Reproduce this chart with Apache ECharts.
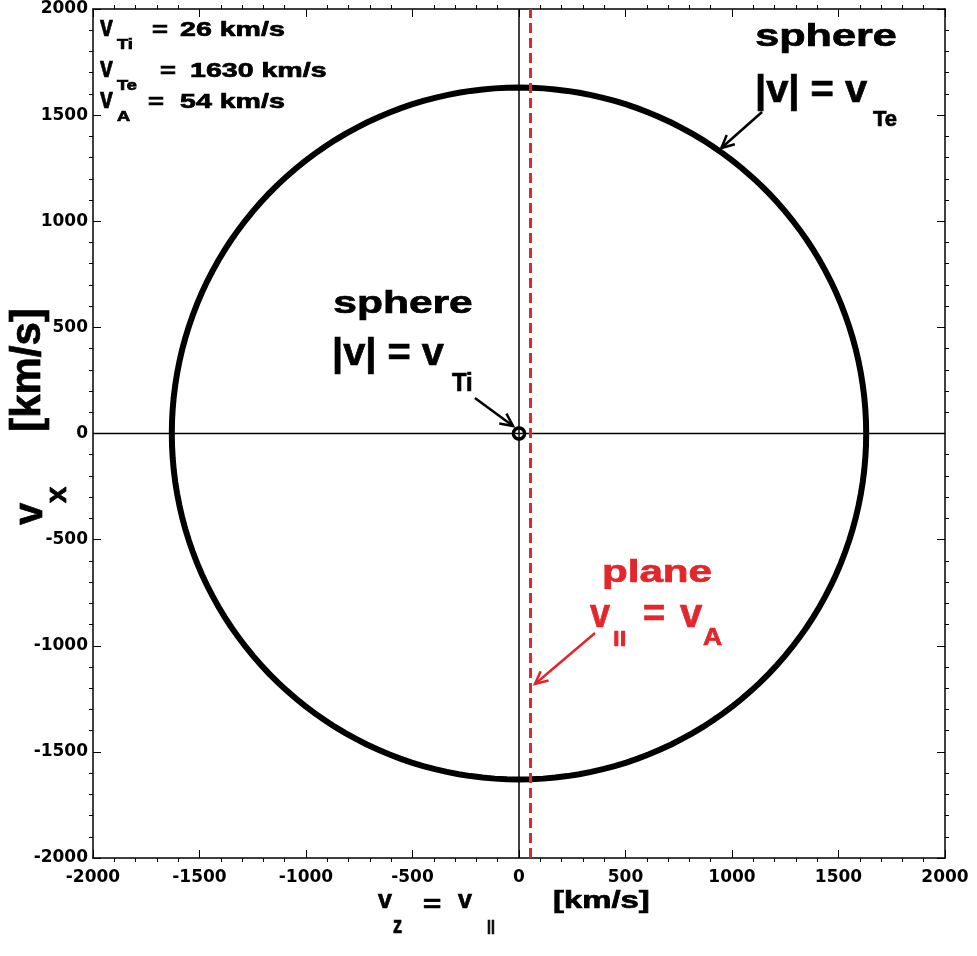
<!DOCTYPE html>
<html>
<head>
<meta charset="utf-8">
<script src="https://cdn.jsdelivr.net/npm/echarts@6/dist/echarts.min.js"></script>
<style>
html,body{margin:0;padding:0;background:#fff;}
#chart{width:977px;height:956px;}
</style>
</head>
<body>
<div id="chart"></div>
<script>
// ---- data ----
const vTi = 26;      // km/s
const vTe = 1630;    // km/s
const vA = 54;       // km/s
const axisMin = -2000;
const axisMax = 2000;
const axisStep = 500;
const legendLines = [
  { sub: 'Ti', value: '26 km/s' },
  { sub: 'Te', value: '1630 km/s' },
  { sub: 'A',  value: '54 km/s' }
];
// annotation arrows [tailX, tailY, headX, headY] in data units
const arrowTe = [1141, 1515, 950, 1345];
const arrowTi = [-207, 167, -28, 35];
const arrowVA = [357, -940, 75, -1180];

const RED = '#e3262b';
const FONT = 'Liberation Sans';
const TICKFONT = 'DejaVu Sans';

const chart = echarts.init(document.getElementById('chart'), null, { renderer: 'canvas' });

function T(text, x, base, fs, sx, align, color) {
  const c = color || '#000';
  return {
    type: 'text', x: x, y: base - 0.35 * fs, scaleX: sx, z: 100,
    style: {
      text: text, x: 0, y: 0, fill: c, stroke: c, lineWidth: 0.7,
      fontFamily: FONT, fontSize: fs, fontWeight: 'bold',
      align: align || 'left', textAlign: align || 'left',
      verticalAlign: 'middle', textVerticalAlign: 'middle'
    }
  };
}
function R(text, cx, cy, fs, sx) {
  return {
    type: 'text', x: cx, y: cy, rotation: Math.PI / 2, scaleX: sx || 1, z: 100,
    style: {
      text: text, x: 0, y: 0, fill: '#000', stroke: '#000', lineWidth: 0.7,
      fontFamily: FONT, fontSize: fs, fontWeight: 'bold',
      align: 'center', textAlign: 'center',
      verticalAlign: 'middle', textVerticalAlign: 'middle'
    }
  };
}

const graphics = [];
// upper-left legend
const legBase = [38, 79, 110];
const legEq = [152, 160, 148];
const legVal = [180, 190, 180];
legendLines.forEach(function (l, i) {
  graphics.push(T('v', 100, legBase[i], 29, 0.8));
  graphics.push(T(l.sub, 117, legBase[i] + 12, 14, 1.3));
  graphics.push(T('=', legEq[i], legBase[i], 21, 1.3));
  graphics.push(T(l.value, legVal[i], legBase[i], 21, 1.36));
});
// top-right annotation
graphics.push(T('sphere', 826, 48, 32, 1.35, 'center'));
graphics.push(T('|v| = v', 755, 105, 38, 1.05));
graphics.push(T('Te', 873, 128, 22, 1.0));
// middle annotation
graphics.push(T('sphere', 403, 315, 32, 1.33, 'center'));
graphics.push(T('|v| = v', 332, 368, 39, 1.02));
graphics.push(T('Ti', 452, 393, 25, 0.95));
// red annotation
graphics.push(T('plane', 657, 584, 31, 1.36, 'center', RED));
graphics.push(T('v', 590, 630, 40, 0.9, 'left', RED));
graphics.push(T('||', 613, 644, 16, 1.5, 'left', RED));
graphics.push(T('=', 643, 629, 38, 1.0, 'left', RED));
graphics.push(T('v', 680, 630, 40, 1.0, 'left', RED));
graphics.push(T('A', 703, 647, 23, 1.15, 'left', RED));
// x-axis title
graphics.push(T('v', 378, 910, 25, 1.0));
graphics.push(T('z', 393, 935, 23, 0.8));
graphics.push(T('=', 423, 914, 24, 1.3));
graphics.push(T('v', 458, 910, 25, 1.0));
graphics.push(T('||', 487, 932, 14, 1.0));
graphics.push(T('[km/s]', 553, 910, 24.5, 1.34));
// y-axis title (rotated)
graphics.push(R('[km/s]', 28, 370, 42));
graphics.push(R('v', 31, 514, 40));
graphics.push(R('x', 57.5, 495, 30));

function sphereRender(lineWidth) {
  return function (params, api) {
    const r = api.value(2);
    const pts = [];
    for (let k = 0; k < 360; k += 2) {
      const a = k * Math.PI / 180;
      pts.push(api.coord([api.value(0) + r * Math.cos(a), api.value(1) + r * Math.sin(a)]));
    }
    return {
      type: 'polygon', shape: { points: pts },
      style: { fill: 'none', stroke: '#000', lineWidth: lineWidth }
    };
  };
}
function arrowRender(color) {
  return function (params, api) {
    const t = api.coord([api.value(0), api.value(1)]);
    const h = api.coord([api.value(2), api.value(3)]);
    const ang = Math.atan2(t[1] - h[1], t[0] - h[0]);
    const L = 14, w = 0.45;
    const p1 = [h[0] + L * Math.cos(ang + w), h[1] + L * Math.sin(ang + w)];
    const p2 = [h[0] + L * Math.cos(ang - w), h[1] + L * Math.sin(ang - w)];
    return {
      type: 'group', children: [
        { type: 'line', shape: { x1: t[0], y1: t[1], x2: h[0], y2: h[1] }, style: { stroke: color, lineWidth: 2.5 } },
        { type: 'polyline', shape: { points: [p1, h, p2] }, style: { stroke: color, lineWidth: 2.5, fill: 'none' } }
      ]
    };
  };
}

const tickLabel = { color: '#000', fontFamily: TICKFONT, fontWeight: 'bold', fontSize: 17,
  formatter: function (v) { return String(v); } };
function axisBase(extra) {
  return Object.assign({
    type: 'value', min: axisMin, max: axisMax, interval: axisStep, gridIndex: 0,
    axisLine: { show: true, onZero: false, lineStyle: { color: '#000', width: 1.5 } },
    axisTick: { show: true, inside: true, length: 8, lineStyle: { color: '#000', width: 1 } },
    minorTick: { show: true, splitNumber: 5, length: -4, lineStyle: { color: '#000', width: 1 } },
    splitLine: { show: false }, minorSplitLine: { show: false }
  }, extra);
}

const option = {
  backgroundColor: '#fff',
  animation: false,
  grid: { left: 93, right: 32, top: 9, bottom: 98, containLabel: false, outerBoundsMode: 'none' },
  xAxis: [
    axisBase({ position: 'bottom', axisLabel: Object.assign({ margin: 11 }, tickLabel) }),
    axisBase({ position: 'top', axisLabel: { show: false } })
  ],
  yAxis: [
    axisBase({ position: 'left', axisLabel: Object.assign({ margin: 5 }, tickLabel) }),
    axisBase({ position: 'right', axisLabel: { show: false } })
  ],
  series: [
    { type: 'line', data: [[axisMin, 0], [axisMax, 0]], symbol: 'none', silent: true,
      lineStyle: { color: '#000', width: 1.5 }, z: 2 },
    { type: 'line', data: [[0, axisMin], [0, axisMax]], symbol: 'none', silent: true,
      lineStyle: { color: '#000', width: 1.5 }, z: 2 },
    { type: 'custom', data: [[0, 0, vTe]], renderItem: sphereRender(6), silent: true, z: 3 },
    { type: 'custom', data: [[0, 0, vTi]], renderItem: sphereRender(3.5), silent: true, z: 3 },
    { type: 'line', data: [[vA, axisMin], [vA, axisMax]], symbol: 'none', silent: true,
      lineStyle: { color: RED, width: 3, type: [10, 5] }, z: 4 },
    { type: 'custom', data: [arrowTe, arrowTi], renderItem: arrowRender('#000'), silent: true, z: 5 },
    { type: 'custom', data: [arrowVA], renderItem: arrowRender(RED), silent: true, z: 5 }
  ],
  graphic: { elements: graphics }
};
chart.setOption(option);
</script>
</body>
</html>
